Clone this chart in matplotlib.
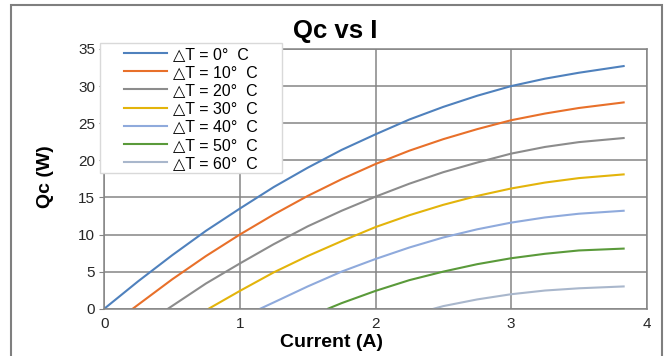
import matplotlib
matplotlib.use("Agg")
import matplotlib.pyplot as plt
from matplotlib.patches import Rectangle

plt.rcParams['font.family'] = ['Liberation Sans', 'DejaVu Sans']

# cooling power Qc (W) against current (A), one curve per temperature difference
current_0 = [0, 0.25, 0.5, 0.75, 1.0, 1.25, 1.5, 1.75, 2.0, 2.25, 2.5, 2.75, 3.0, 3.25, 3.5, 3.83]
qc_0 = [0, 3.7, 7.2, 10.5, 13.5, 16.4, 19.0, 21.4, 23.5, 25.5, 27.2, 28.7, 30.0, 31.0, 31.8, 32.7]

current_10 = [0.21, 0.5, 0.75, 1.0, 1.25, 1.5, 1.75, 2.0, 2.25, 2.5, 2.75, 3.0, 3.25, 3.5, 3.83]
qc_10 = [0, 3.95, 7.1, 10.0, 12.7, 15.2, 17.45, 19.5, 21.3, 22.85, 24.2, 25.4, 26.3, 27.05, 27.8]

current_20 = [0.47, 0.75, 1.0, 1.25, 1.5, 1.75, 2.0, 2.25, 2.5, 2.75, 3.0, 3.25, 3.5, 3.83]
qc_20 = [0, 3.4, 6.1, 8.7, 11.1, 13.2, 15.1, 16.85, 18.4, 19.7, 20.9, 21.8, 22.45, 23.0]

current_30 = [0.77, 1.0, 1.25, 1.5, 1.75, 2.0, 2.25, 2.5, 2.75, 3.0, 3.25, 3.5, 3.83]
qc_30 = [0, 2.4, 4.9, 7.1, 9.1, 11.0, 12.6, 14.0, 15.2, 16.2, 17.0, 17.6, 18.1]

current_40 = [1.15, 1.25, 1.5, 1.75, 2.0, 2.25, 2.5, 2.75, 3.0, 3.25, 3.5, 3.83]
qc_40 = [0, 0.85, 3.0, 5.0, 6.7, 8.25, 9.6, 10.7, 11.6, 12.3, 12.8, 13.2]

current_50 = [1.65, 1.75, 2.0, 2.25, 2.5, 2.75, 3.0, 3.25, 3.5, 3.83]
qc_50 = [0, 0.75, 2.4, 3.85, 5.0, 6.0, 6.8, 7.4, 7.85, 8.1]

current_60 = [2.43, 2.5, 2.75, 3.0, 3.25, 3.5, 3.83]
qc_60 = [0, 0.35, 1.25, 1.95, 2.45, 2.75, 3.0]

delta_t = [0, 10, 20, 30, 40, 50, 60]
series = [(current_0, qc_0), (current_10, qc_10), (current_20, qc_20),
          (current_30, qc_30), (current_40, qc_40), (current_50, qc_50),
          (current_60, qc_60)]
colors = ['#4F81BD', '#E8702A', '#8C8C8C', '#E3B40B', '#8FAADC', '#5A9A3A', '#A9B7CC']

fig = plt.figure(figsize=(6.7, 3.56), dpi=100)
ax = fig.add_axes([104.3 / 670, 1 - 308.7 / 356, 542.4 / 670, 259.7 / 356])

for (x, y), dt, c in zip(series, delta_t, colors):
    ax.plot(x, y, color=c, lw=1.5, label='\u25b3T = %d\u00b0  C' % dt)

ax.set_xlim(0, 4)
ax.set_ylim(0, 35)
ax.set_xticks(range(0, 5))
ax.set_yticks(range(0, 40, 5))
ax.grid(True, color='#858585', lw=1.1)
for s in ax.spines.values():
    s.set_color('#858585')
    s.set_linewidth(1.1)
ax.tick_params(axis='x', length=0, pad=6, labelsize=11, labelcolor='#262626')
ax.tick_params(axis='y', length=3.6, color='#858585', pad=3, labelsize=11,
               labelcolor='#262626')

# legend box drawn by hand so the padding can be wider than tall
ax.add_patch(Rectangle((100 / 670, 1 - 173 / 356), 182 / 670, 130 / 356,
                       transform=fig.transFigure, facecolor='white',
                       edgecolor='#D9D9D9', lw=1, zorder=4, clip_on=False))
leg = ax.legend(loc='upper left', bbox_to_anchor=(116 / 670, 1 - 38.7 / 356),
                bbox_transform=fig.transFigure, frameon=False, borderpad=0,
                fontsize=11.5, handlelength=2.7, handletextpad=0.35,
                labelspacing=0.2)
leg.set_zorder(5)

fig.text(0.5, 1 - 38 / 356, 'Qc vs I', ha='center', va='baseline',
         fontsize=18.5, fontweight='bold')
fig.text(332 / 670, 1 - 346.7 / 356, 'Current (A)', ha='center', va='baseline',
         fontsize=14, fontweight='bold')
fig.text(45 / 670, 1 - 177 / 356, 'Qc (W)', ha='center', va='center',
         rotation=90, fontsize=14, fontweight='bold')

# outer chart border
fig.add_artist(Rectangle((11 / 670, -0.05), 651 / 670, 1.05 - 5 / 356,
                         transform=fig.transFigure, fill=False,
                         edgecolor='#7F7F7F', lw=1.5))

fig.savefig('out.png', dpi=100)
